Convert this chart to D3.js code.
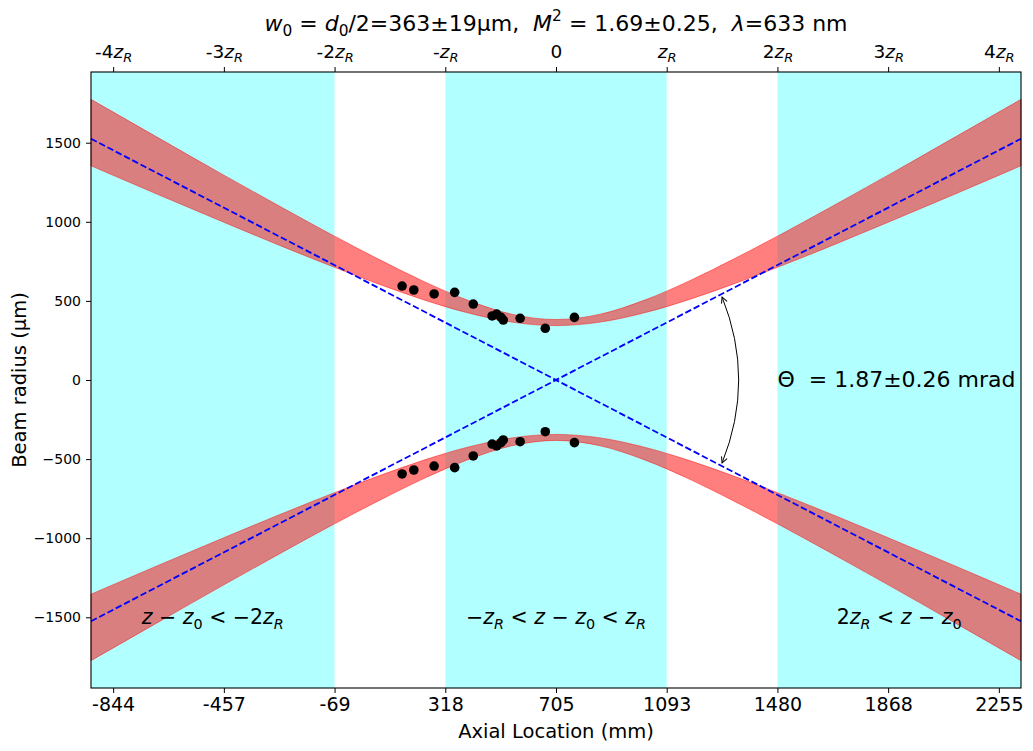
<!DOCTYPE html>
<html lang="en">
<head>
    <meta charset="UTF-8">
    <title>Beam radius fit</title>
    <script src="https://d3js.org/d3.v7.min.js"></script>
    <style>
        body { margin: 0; background: #fff; }
        text { font-family: "DejaVu Sans", sans-serif; fill: #000; white-space: pre; }
        .domain, .tick line { stroke: #000; }
    </style>
</head>
<body>
    <svg width="1033" height="751"></svg>

    <script>
        // fit results
        const z0 = 705.5;      // mm
        const zR = 387.4;      // mm
        const zLimits = [-921.6, 2332.6];
        const wLimits = [-1947, 1947];

        // measured beam radii (um) vs axial location (mm)
        const zData = [167, 208, 279, 351, 416, 482, 498, 513, 521, 580, 668, 770];
        const wData = [594, 569, 544, 554, 480, 405, 417, 396, 379, 390, 327, 396];

        // uncertainty band of the fitted radius
        const bandZ  = [-921.6, -689.1, -456.7, -263.0, -69.3, 85.7, 240.6, 395.6, 550.5, 705.5,
                        860.5, 1015.4, 1170.4, 1325.3, 1480.3, 1674.0, 1867.7, 2100.1, 2332.6];
        const bandLo = [1354, 1174, 997, 852, 712, 606, 508, 425, 366, 344,
                        366, 425, 508, 606, 712, 852, 997, 1174, 1354];
        const bandHi = [1774, 1534, 1295, 1100, 909, 763, 625, 505, 416, 382,
                        416, 505, 625, 763, 909, 1100, 1295, 1534, 1774];

        // asymptotes (dashed)
        const asymZ = [-921.6, 2332.6];
        const asymW = [1525, -1525];

        // ticks
        const tickK = [-4, -3, -2, -1, 0, 1, 2, 3, 4];
        const bottomTickLabels = ["-844", "-457", "-69", "318", "705", "1093", "1480", "1868", "2255"];
        const topTickLabels = ["-4z_R", "-3z_R", "-2z_R", "-z_R", "0", "z_R", "2z_R", "3z_R", "4z_R"];
        const yTicks = [-1500, -1000, -500, 0, 500, 1000, 1500];

        // shaded regions, in units of zR from the waist
        const regions = [[-4.2, -2], [-1, 1], [2, 4.2]];

        // divergence annotation
        const arrowZ = 1286.6, arrowW = 525;
        const thetaLabel = "\u0398  = 1.87\u00b10.26 mrad";

        const svg = d3.select("svg");
        const margin = {top: 72, right: 12, bottom: 63, left: 91};
        const width = +svg.attr("width"), height = +svg.attr("height");

        const x = d3.scaleLinear().domain(zLimits).range([margin.left, width - margin.right]);
        const y = d3.scaleLinear().domain(wLimits).range([height - margin.bottom, margin.top]);

        // write text with italic letters, sub- and superscripts
        function mathText(sel, parts) {
            let shift = 0;
            parts.forEach(p => {
                const ts = sel.append("tspan").text(p.t);
                const want = p.sub ? 0.24 : (p.sup ? -0.45 : 0);
                const fs = (p.sub || p.sup) ? 0.7 : 1;
                if (want !== shift) {
                    // dy is in the tspan's own em, so convert
                    ts.attr("dy", ((want - shift) / fs).toFixed(3) + "em");
                    shift = want;
                }
                if (p.it) ts.attr("font-style", "italic");
                if (fs !== 1) ts.attr("font-size", "70%");
            });
        }

        function parseLabel(s) {
            // "z_R" -> italic z, subscript italic R
            const parts = [];
            const i = s.indexOf("z_R");
            if (i < 0) return [{t: s}];
            if (i > 0) parts.push({t: s.slice(0, i)});
            parts.push({t: "z", it: true});
            parts.push({t: "R", it: true, sub: true});
            return parts;
        }

        // shaded cyan spans
        svg.append("g")
            .selectAll("rect")
            .data(regions)
            .enter().append("rect")
            .attr("x", d => x(z0 + d[0] * zR))
            .attr("width", d => x(z0 + d[1] * zR) - x(z0 + d[0] * zR))
            .attr("y", margin.top)
            .attr("height", height - margin.top - margin.bottom)
            .attr("fill", "cyan")
            .attr("fill-opacity", 0.3);

        // red bands (upper and mirrored lower)
        const band = bandZ.map((z, i) => ({z: z, lo: bandLo[i], hi: bandHi[i]}));
        [1, -1].forEach(sgn => {
            const area = d3.area()
                .x(d => x(d.z))
                .y0(d => y(sgn * d.lo))
                .y1(d => y(sgn * d.hi))
                .curve(d3.curveMonotoneX);
            svg.append("path")
                .datum(band)
                .attr("d", area)
                .attr("fill", "red")
                .attr("fill-opacity", 0.5)
                .attr("stroke", "red")
                .attr("stroke-opacity", 0.45)
                .attr("stroke-width", 1);
        });

        // dashed asymptotes
        const line = d3.line().x(d => x(d[0])).y(d => y(d[1]));
        [1, -1].forEach(sgn => {
            svg.append("path")
                .datum(asymZ.map((z, i) => [z, sgn * asymW[i]]))
                .attr("d", line)
                .attr("fill", "none")
                .attr("stroke", "blue")
                .attr("stroke-width", 1.8)
                .attr("stroke-dasharray", "6.5,2.8");
        });

        // data points
        const pts = [];
        zData.forEach((z, i) => { pts.push([z, wData[i]]); pts.push([z, -wData[i]]); });
        svg.append("g")
            .selectAll("circle")
            .data(pts)
            .enter().append("circle")
            .attr("cx", d => x(d[0]))
            .attr("cy", d => y(d[1]))
            .attr("r", 4.8)
            .attr("fill", "#000");

        // curved double arrow for the divergence angle
        const defs = svg.append("defs");
        defs.append("marker")
            .attr("id", "head")
            .attr("markerUnits", "userSpaceOnUse")
            .attr("viewBox", "-8 -5 10 10")
            .attr("markerWidth", 10).attr("markerHeight", 10)
            .attr("refX", 0).attr("refY", 0)
            .attr("orient", "auto-start-reverse")
            .append("path")
            .attr("d", "M-6,-3L0,0L-6,3")
            .attr("fill", "none")
            .attr("stroke", "#000")
            .attr("stroke-width", 1);

        const ax = x(arrowZ), ay1 = y(arrowW), ay2 = y(-arrowW);
        const cx = ax + 0.2 * (ay2 - ay1);
        svg.append("path")
            .attr("d", `M${ax},${ay1}Q${cx},${(ay1 + ay2) / 2} ${ax},${ay2}`)
            .attr("fill", "none")
            .attr("stroke", "#000")
            .attr("stroke-width", 1)
            .attr("marker-start", "url(#head)")
            .attr("marker-end", "url(#head)");

        svg.append("text")
            .attr("x", x(z0 + 2 * zR))
            .attr("y", y(0) + 7)
            .attr("font-size", 22)
            .text(thetaLabel);

        // region labels
        const regionLabels = [
            [{t: "z", it: true}, {t: " \u2212 "}, {t: "z", it: true}, {t: "0", sub: true},
             {t: " < \u22122"}, {t: "z", it: true}, {t: "R", it: true, sub: true}],
            [{t: "\u2212"}, {t: "z", it: true}, {t: "R", it: true, sub: true}, {t: " < "},
             {t: "z", it: true}, {t: " \u2212 "}, {t: "z", it: true}, {t: "0", sub: true},
             {t: " < "}, {t: "z", it: true}, {t: "R", it: true, sub: true}],
            [{t: "2"}, {t: "z", it: true}, {t: "R", it: true, sub: true}, {t: " < "},
             {t: "z", it: true}, {t: " \u2212 "}, {t: "z", it: true}, {t: "0", sub: true}]
        ];
        regions.forEach((r, i) => {
            const t = svg.append("text")
                .attr("x", x(z0 + (r[0] + r[1]) / 2 * zR))
                .attr("y", y(-1500) + 7)
                .attr("text-anchor", "middle")
                .attr("font-size", 20.5);
            mathText(t, regionLabels[i]);
        });

        // axes
        const tickPos = tickK.map(k => z0 + k * zR);

        const xBottom = svg.append("g")
            .attr("transform", `translate(0,${height - margin.bottom})`)
            .call(d3.axisBottom(x).tickValues(tickPos).tickSizeOuter(0).tickSize(5).tickPadding(5)
                .tickFormat((d, i) => bottomTickLabels[i]));
        xBottom.selectAll("text").attr("font-size", 19);

        const xTop = svg.append("g")
            .attr("transform", `translate(0,${margin.top})`)
            .call(d3.axisTop(x).tickValues(tickPos).tickSizeOuter(0).tickSize(5).tickPadding(9)
                .tickFormat(() => ""));
        xTop.selectAll(".tick text").each(function(d, i) {
            const t = d3.select(this).attr("font-size", 18.5);
            mathText(t, parseLabel(topTickLabels[i]));
        });

        const yLeft = svg.append("g")
            .attr("transform", `translate(${margin.left},0)`)
            .call(d3.axisLeft(y).tickValues(yTicks).tickSizeOuter(0).tickSize(5).tickPadding(5)
                .tickFormat(d3.format("d")));
        yLeft.selectAll("text").attr("font-size", 14);

        svg.selectAll(".domain").remove();
        svg.selectAll(".tick line").attr("stroke-width", 1);

        // frame
        svg.append("rect")
            .attr("x", margin.left).attr("y", margin.top)
            .attr("width", width - margin.left - margin.right)
            .attr("height", height - margin.top - margin.bottom)
            .attr("fill", "none")
            .attr("stroke", "#000")
            .attr("stroke-width", 1.1);

        // labels
        svg.append("text")
            .attr("x", (margin.left + width - margin.right) / 2)
            .attr("y", 738)
            .attr("text-anchor", "middle")
            .attr("font-size", 19.5)
            .text("Axial Location (mm)");

        svg.append("text")
            .attr("transform", `translate(26,${y(0)}) rotate(-90)`)
            .attr("text-anchor", "middle")
            .attr("font-size", 19.5)
            .text("Beam radius (\u00b5m)");

        const title = svg.append("text")
            .attr("x", (margin.left + width - margin.right) / 2)
            .attr("y", 31)
            .attr("text-anchor", "middle")
            .attr("font-size", 22);
        mathText(title, [
            {t: "w", it: true}, {t: "0", sub: true}, {t: " = "}, {t: "d", it: true}, {t: "0", sub: true},
            {t: "/2=363\u00b119\u00b5m,  "}, {t: "M", it: true}, {t: "2", sup: true},
            {t: " = 1.69\u00b10.25,  "}, {t: "\u03bb", it: true}, {t: "=633 nm"}
        ]);
    </script>
</body>
</html>
